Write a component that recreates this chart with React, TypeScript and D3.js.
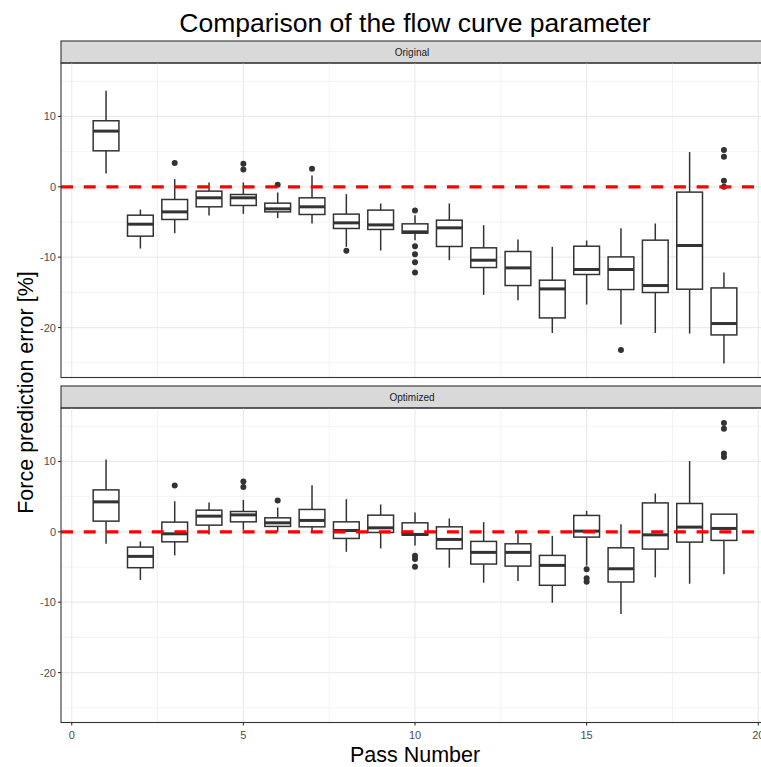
import React from 'react';
import * as d3 from 'd3';

// [lower whisker, q1, median, q3, upper whisker] for passes 1..19
const passes = d3.range(1, 20);

const originalStats: [number, number, number, number, number][] = [
  [1.9, 5.12, 7.92, 9.39, 13.66],
  [-8.77, -7.01, -5.31, -4.03, -3.22],
  [-6.59, -4.64, -3.56, -1.8, 1.1],
  [-4.07, -2.84, -1.56, -0.61, 0.62],
  [-3.84, -2.65, -1.56, -1.09, 0.62],
  [-4.45, -3.56, -3.13, -2.32, -0.8],
  [-5.21, -3.93, -2.84, -1.56, 1.62],
  [-8.53, -5.92, -5.12, -3.88, -1.04],
  [-9.05, -6.06, -5.41, -3.31, -2.37],
  [-7.58, -6.59, -6.4, -5.26, -4.03],
  [-10.43, -8.48, -5.83, -4.74, -2.37],
  [-15.36, -11.47, -10.43, -8.67, -5.45],
  [-16.12, -14.03, -11.52, -9.19, -7.49],
  [-20.77, -18.63, -14.51, -13.27, -8.53],
  [-16.73, -12.46, -11.75, -8.44, -7.63],
  [-19.57, -14.6, -11.75, -9.96, -5.87],
  [-20.77, -15.02, -14.03, -7.58, -5.21],
  [-20.86, -14.55, -8.34, -0.75, 4.94],
  [-25.12, -21.05, -19.43, -14.37, -12.18],
];

const originalOutliers: [number, number][] = [
  [3, 3.37],
  [5, 3.27], [5, 2.47],
  [6, 0.29],
  [7, 2.56],
  [8, -9.1],
  [10, -3.36], [10, -8.44], [10, -9.57], [10, -10.71], [10, -12.18],
  [16, -23.19],
  [19, 5.22], [19, 4.27], [19, 0.85], [19, 0.0],
];

const optimizedStats: [number, number, number, number, number][] = [
  [-1.7, 1.52, 4.26, 5.96, 10.27],
  [-6.85, -5.1, -3.49, -2.17, -1.36],
  [-3.35, -1.42, -0.28, 1.38, 4.35],
  [-0.37, 0.95, 2.23, 3.08, 4.17],
  [0.28, 1.42, 2.41, 2.89, 4.54],
  [0.0, 0.77, 1.28, 1.99, 3.46],
  [0.0, 0.71, 1.62, 3.18, 6.62],
  [-2.84, -0.94, 0.19, 1.42, 4.64],
  [-2.36, -0.09, 0.57, 2.37, 3.89],
  [-1.93, -0.47, -0.37, 1.28, 2.75],
  [-5.1, -2.41, -1.08, 0.71, 1.9],
  [-7.23, -4.58, -2.92, -1.36, 1.38],
  [-6.99, -4.87, -2.92, -1.7, -0.23],
  [-10.07, -7.6, -4.77, -3.35, -0.57],
  [-4.8, -0.75, 0.1, 2.33, 2.98],
  [-11.67, -7.13, -5.25, -2.27, 1.09],
  [-6.47, -2.45, -0.43, 4.11, 5.45],
  [-7.38, -1.46, 0.67, 4.03, 10.07],
  [-6.04, -1.22, 0.48, 2.51, 2.55],
];

const optimizedOutliers: [number, number][] = [
  [3, 6.58],
  [5, 7.15], [5, 6.38],
  [6, 4.45],
  [10, -3.4], [10, -3.87], [10, -4.96],
  [15, -5.33], [15, -6.61], [15, -7.09],
  [19, 15.46], [19, 14.66], [19, 11.12], [19, 10.64],
];

const panels = [
  { label: 'Original', stats: originalStats, outliers: originalOutliers },
  { label: 'Optimized', stats: optimizedStats, outliers: optimizedOutliers },
];

const xTicks = [0, 5, 10, 15, 20];
const xMinor = [2.5, 7.5, 12.5, 17.5];
const yTicks = [-20, -10, 0, 10];
const yMinor = [-25, -15, -5, 5, 15];

const W = 761;
const H = 767;
const FONT = '"Liberation Sans", Arial, Helvetica, sans-serif';

export default function App() {
  React.useEffect(() => {
    document.body.style.margin = '0';
  }, []);

  const left = 61;
  const right = 769;
  const stripH = 22;
  const panelTops = [41, 386];
  const panelH = 314.5;

  const x = d3.scaleLinear().domain([-0.3125, 20.3125]).range([left, right]);
  const boxW = x(0.75) - x(0);

  return (
    <svg width={W} height={H} style={{ display: 'block' }} fontFamily={FONT}>
      <rect width={W} height={H} fill="white" />
      <text x={415} y={32} textAnchor="middle" fontSize={26.5} fill="black">
        Comparison of the flow curve parameter
      </text>

      {panels.map((p, i) => {
        const top = panelTops[i] + stripH;
        const y = d3.scaleLinear().domain([-27.1, 17.6]).range([top + panelH, top]);
        return (
          <g key={p.label}>
            {/* strip */}
            <rect x={left} y={panelTops[i]} width={right - left} height={stripH}
              fill="#D9D9D9" stroke="#333333" strokeWidth={1.1} />
            <text x={(left + right) / 2 - 3} y={panelTops[i] + stripH / 2 + 3.5}
              textAnchor="middle" fontSize={10} fill="#1A1A1A">{p.label}</text>

            {/* grid */}
            {yMinor.map(v => (
              <line key={'ym' + v} x1={left} x2={right} y1={y(v)} y2={y(v)} stroke="#EBEBEB" strokeWidth={0.6} />
            ))}
            {xMinor.map(v => (
              <line key={'xm' + v} x1={x(v)} x2={x(v)} y1={top} y2={top + panelH} stroke="#EBEBEB" strokeWidth={0.6} />
            ))}
            {yTicks.map(v => (
              <line key={'y' + v} x1={left} x2={right} y1={y(v)} y2={y(v)} stroke="#EBEBEB" strokeWidth={1.2} />
            ))}
            {xTicks.map(v => (
              <line key={'x' + v} x1={x(v)} x2={x(v)} y1={top} y2={top + panelH} stroke="#EBEBEB" strokeWidth={1.2} />
            ))}

            {/* boxes */}
            {p.stats.map((s, j) => {
              const cx = x(passes[j]);
              const [lo, q1, med, q3, hi] = s;
              return (
                <g key={j} stroke="#333333" strokeWidth={1.5}>
                  <line x1={cx} x2={cx} y1={y(hi)} y2={y(q3)} />
                  <line x1={cx} x2={cx} y1={y(q1)} y2={y(lo)} />
                  <rect x={cx - boxW / 2} y={y(q3)} width={boxW} height={y(q1) - y(q3)} fill="white" />
                  <line x1={cx - boxW / 2} x2={cx + boxW / 2} y1={y(med)} y2={y(med)} strokeWidth={3} />
                </g>
              );
            })}
            {p.outliers.map(([ps, v], k) => (
              <circle key={'o' + k} cx={x(ps)} cy={y(v)} r={3} fill="#333333" />
            ))}

            {/* zero reference */}
            <line x1={left} x2={right} y1={y(0)} y2={y(0)} stroke="#FF0000"
              strokeWidth={3.2} strokeDasharray="12,10.7" />

            {/* panel border */}
            <rect x={left} y={top} width={right - left} height={panelH} fill="none" stroke="#333333" strokeWidth={1.1} />

            {/* y axis */}
            {yTicks.map(v => (
              <g key={'yt' + v}>
                <line x1={left - 3} x2={left} y1={y(v)} y2={y(v)} stroke="#333333" strokeWidth={1.1} />
                <text x={left - 5} y={y(v) + 4} textAnchor="end" fontSize={11} fill="#4D4D4D">{v}</text>
              </g>
            ))}

            {/* x axis on bottom panel */}
            {i === 1 && xTicks.map(v => (
              <g key={'xt' + v}>
                <line x1={x(v)} x2={x(v)} y1={top + panelH} y2={top + panelH + 3} stroke="#333333" strokeWidth={1.1} />
                <text x={x(v)} y={top + panelH + 16.5} textAnchor="middle" fontSize={11} fill="#4D4D4D">{v}</text>
              </g>
            ))}
          </g>
        );
      })}

      <text x={415} y={762} textAnchor="middle" fontSize={21.5} fill="black">Pass Number</text>
      <text transform={`translate(33, ${(63 + 722) / 2}) rotate(-90)`} textAnchor="middle" fontSize={21.5} fill="black">
        Force prediction error [%]
      </text>
    </svg>
  );
}
